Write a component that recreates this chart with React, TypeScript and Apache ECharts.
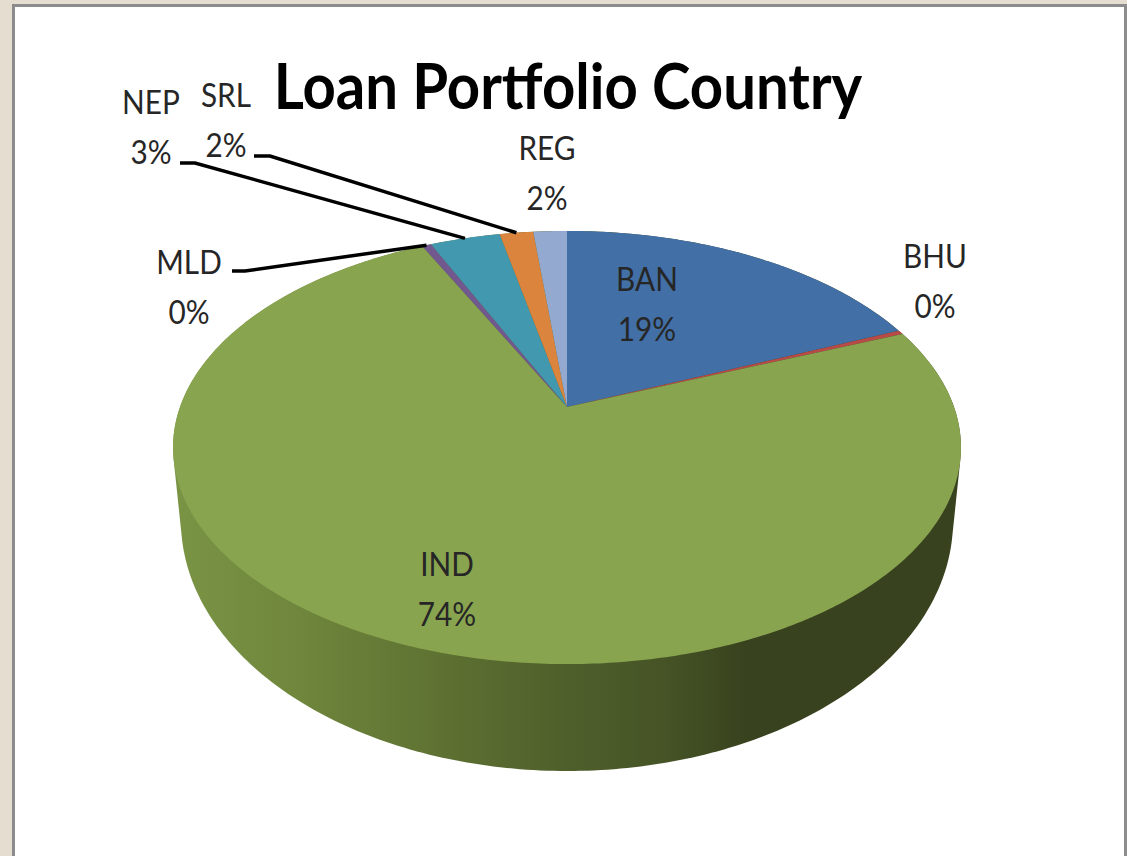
import React, { useEffect, useRef } from "react";
import * as echarts from "echarts";

const categories = ["BAN", "BHU", "IND", "MLD", "NEP", "SRL", "REG"];
const shares = [18.6, 0.3, 73.9, 0.45, 3.45, 1.65, 1.65];
const sliceColors = ["#426fa5", "#b84a47", "#89a44f", "#71588f", "#4198af", "#db843d", "#93a9cf"];

const TITLE = "Loan Portfolio Country";
const FONT = "Lato";
const W = 1127;
const H = 856;

// Perspective disc: apex, projected radii and vanishing factor
const CX = 567;
const CY = 407;
const AX = 387;
const BY = 209;
const K = 0.187;
// Base ellipse of the wall
const BASE = { cx: 567, cy: 521, rx: 386, ry: 250 };

// Label anchors (centre) and optional leader elbows, by category index
const labelPos: [number, number][] = [
  [647, 304], [935, 281], [447, 589], [189, 287], [151, 127], [226, 120], [547, 173],
];
const leaderStart: (number[][] | null)[] = [
  null, null, null,
  [[232, 271], [245, 271]],
  [[180, 163], [195, 163]],
  [[254, 156], [270, 156]],
  null,
];

const total = shares.reduce((a, b) => a + b, 0);
const cumulative: number[] = [];
shares.reduce((acc, v, i) => { cumulative[i] = acc; return acc + v; }, 0);

function project(theta: number): number[] {
  const x = Math.sin(theta);
  const y = -Math.cos(theta);
  const d = 1 - K * y;
  return [CX + (AX * x) / d, CY + (BY * y) / d];
}

function toAngle(v: number): number {
  return (v / total) * Math.PI * 2;
}

function hull(points: number[][]): number[][] {
  const p = points.slice().sort((a, b) => a[0] - b[0] || a[1] - b[1]);
  const cross = (o: number[], a: number[], b: number[]) =>
    (a[0] - o[0]) * (b[1] - o[1]) - (a[1] - o[1]) * (b[0] - o[0]);
  const lo: number[][] = [];
  for (const q of p) {
    while (lo.length >= 2 && cross(lo[lo.length - 2], lo[lo.length - 1], q) <= 0) lo.pop();
    lo.push(q);
  }
  const up: number[][] = [];
  for (let i = p.length - 1; i >= 0; i--) {
    const q = p[i];
    while (up.length >= 2 && cross(up[up.length - 2], up[up.length - 1], q) <= 0) up.pop();
    up.push(q);
  }
  lo.pop();
  up.pop();
  return lo.concat(up);
}

function wallPoints(): number[][] {
  const pts: number[][] = [];
  for (let i = 0; i < 360; i++) {
    const t = (i / 360) * Math.PI * 2;
    pts.push(project(t));
    pts.push([BASE.cx + BASE.rx * Math.sin(t), BASE.cy + BASE.ry * Math.cos(t)]);
  }
  return hull(pts);
}

export default function App() {
  const ref = useRef<HTMLDivElement>(null);
  useEffect(() => {
    document.body.style.margin = "0";
    const chart = echarts.init(ref.current!, null, { renderer: "svg" });
    const wallFill = new echarts.graphic.LinearGradient(
      173, 0, 961, 0,
      [
        { offset: 0, color: "#7a9445" },
        { offset: 0.16, color: "#6f863c" },
        { offset: 0.36, color: "#5c6f31" },
        { offset: 0.5, color: "#4f5f2b" },
        { offset: 0.62, color: "#465426" },
        { offset: 0.73, color: "#38421e" },
        { offset: 1, color: "#38421e" },
      ],
      true
    );
    chart.setOption({
      animation: false,
      backgroundColor: "#e4ddd0",
      graphic: [
        {
          type: "rect",
          z: 0,
          shape: { x: 13.5, y: 5.5, width: 1112, height: 860 },
          style: { fill: "#ffffff", stroke: "#8c8c8c", lineWidth: 3 },
        },
        {
          type: "text",
          z: 10,
          x: 568,
          y: 84,
          scaleX: 0.908,
          style: {
            text: TITLE,
            fill: "#000000",
            font: `bold 64px ${FONT}`,
            textAlign: "center",
            textVerticalAlign: "middle",
          },
        },
      ],
      series: [
        {
          type: "custom",
          coordinateSystem: "none",
          silent: true,
          z: 2,
          data: [shares[2]],
          renderItem: () => ({
            type: "polygon",
            shape: { points: wallPoints() },
            style: { fill: wallFill },
          }),
        },
        {
          type: "custom",
          coordinateSystem: "none",
          silent: true,
          z: 3,
          data: shares.map((v, i) => [i, v]),
          renderItem: (_p: any, api: any) => {
            const i = api.value(0);
            const a0 = toAngle(cumulative[i]);
            const a1 = toAngle(cumulative[i] + api.value(1));
            const steps = Math.max(2, Math.ceil((a1 - a0) * 90));
            const points = [[CX, CY]];
            for (let s = 0; s <= steps; s++) points.push(project(a0 + ((a1 - a0) * s) / steps));
            return {
              type: "polygon",
              shape: { points },
              style: { fill: sliceColors[i] },
            };
          },
        },
        {
          type: "custom",
          coordinateSystem: "none",
          silent: true,
          z: 4,
          data: shares.map((v, i) => [i, v]),
          renderItem: (_p: any, api: any) => {
            const i = api.value(0);
            const v = api.value(1);
            const children: any[] = [];
            const start = leaderStart[i];
            if (start) {
              const end = project(toAngle(cumulative[i] + v / 2));
              children.push({
                type: "polyline",
                shape: { points: [...start, end] },
                style: { fill: "none", stroke: "#000000", lineWidth: 3.5 },
              });
            }
            children.push({
              type: "text",
              x: labelPos[i][0],
              y: labelPos[i][1],
              scaleX: 0.93,
              style: {
                text: `${categories[i]}\n${Math.round((v / total) * 100)}%`,
                fill: "#262626",
                font: `32px ${FONT}`,
                lineHeight: 50,
                textAlign: "center",
                textVerticalAlign: "middle",
              },
            });
            return { type: "group", children };
          },
        },
      ],
    });
    return () => chart.dispose();
  }, []);
  return <div ref={ref} style={{ width: W, height: H }} />;
}
